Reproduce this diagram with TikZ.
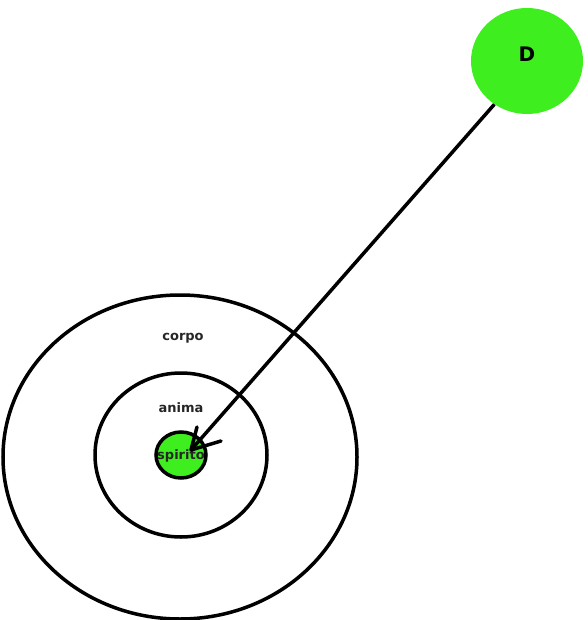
\documentclass[tikz,border=0pt]{standalone}
\usepackage{fontspec}
\setmainfont{DejaVu Sans}
\usetikzlibrary{shapes.geometric,arrows.meta}
\definecolor{lgreen}{RGB}{62,238,30}
\begin{document}
\begin{tikzpicture}[x=1pt,y=1pt,
  ring/.style={draw=black,line width=3.5pt,ellipse,inner sep=0pt},
  lbl/.style={font=\bfseries\fontsize{13}{15}\selectfont,text=black!85},
  conn/.style={line width=3.5pt},
  barb/.style={line width=3.5pt,line cap=round,line join=round}]
\useasboundingbox (0,0) rectangle (587,-620);
\node[ring,minimum width=354pt,minimum height=324pt] (corpoC) at (180,-457) {};
\node[ring,minimum width=172pt,minimum height=164pt] (animaC) at (181,-455) {};
\node[ring,fill=lgreen,minimum width=50pt,minimum height=46pt] (spirito) at (181,-455) {};
\node[ellipse,fill=lgreen,minimum width=112pt,minimum height=106pt] (D) at (527,-61) {};
\node[font=\bfseries\fontsize{20}{22}\selectfont] (Dl) at (527,-54) {D};
\node[lbl] (corpo) at (183,-338) {corpo};
\node[lbl] (anima) at (181,-408) {anima};
\node[lbl] (spl) at (181,-456) {spirito};
\coordinate (tip) at (191,-450);
\coordinate (b1) at (197,-427);
\coordinate (b2) at (221,-441);
\draw[conn] (D.{233}) -- (tip);
\draw[barb] (b1) -- (tip) -- (b2);
\end{tikzpicture}
\end{document}
